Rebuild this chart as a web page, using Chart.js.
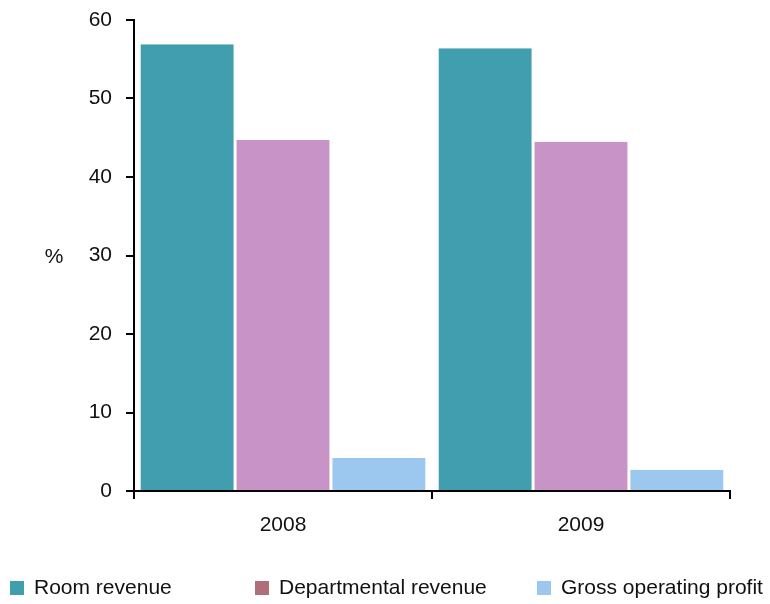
<!DOCTYPE html>
<html>
<head>
<meta charset="utf-8">
<script src="https://cdn.jsdelivr.net/npm/chart.js@4"></script>
<style>
  html, body { margin: 0; padding: 0; background: #fff; }
  #wrap { width: 770px; height: 604px; }
</style>
</head>
<body>
<div id="wrap"><canvas id="chart" width="770" height="604"></canvas></div>
<script>
// Share of revenue by year (%)
const years = ['2008', '2009'];
const roomRevenue = [56.9, 56.4];
const departmentalRevenue = [44.7, 44.5];
const grossOperatingProfit = [4.2, 2.7];
const yTicks = [0, 10, 20, 30, 40, 50, 60];

const seriesNames = ['Room revenue', 'Departmental revenue', 'Gross operating profit'];
const barColors = ['#419eae', '#c893c6', '#9cc7ee'];
const legendColors = ['#419eae', '#b06e7b', '#9cc7ee'];

const FONT = "'Liberation Sans', Arial, sans-serif";

// legend row and the "%" axis label, painted straight onto the canvas
const extrasPlugin = {
    id: 'extras',
    afterDraw(chart) {
        const ctx = chart.ctx;
        ctx.save();
        ctx.font = '21px ' + FONT;
        ctx.fillStyle = '#111';
        ctx.textBaseline = 'middle';
        ctx.textAlign = 'center';
        ctx.fillText('%', 54, 257);

        const legendX = [10, 255, 537];
        const legendY = 588;
        ctx.textAlign = 'left';
        seriesNames.forEach((name, i) => {
            ctx.fillStyle = legendColors[i];
            ctx.fillRect(legendX[i], legendY - 7, 14, 14);
            ctx.fillStyle = '#111';
            ctx.fillText(name, legendX[i] + 24, legendY);
        });
        ctx.restore();
    }
};

const ctx = document.getElementById('chart').getContext('2d');
new Chart(ctx, {
    type: 'bar',
    data: {
        labels: years,
        datasets: [roomRevenue, departmentalRevenue, grossOperatingProfit].map((vals, i) => ({
            label: seriesNames[i],
            data: vals,
            backgroundColor: barColors[i],
            borderColor: '#ffffff',
            // white seams between neighbouring bars only
            borderWidth: { left: 1.5, right: 1.5, top: 0, bottom: 0 },
            barPercentage: 1,
            categoryPercentage: 0.965
        }))
    },
    options: {
        responsive: false,
        animation: false,
        layout: { padding: { top: 20, right: 40, bottom: 63, left: 0 } },
        plugins: {
            legend: { display: false },
            tooltip: { enabled: false }
        },
        scales: {
            x: {
                grid: { display: true, drawOnChartArea: false, drawTicks: true, tickLength: 8, color: '#000', lineWidth: 2 },
                border: { display: true, color: '#000', width: 2 },
                ticks: { color: '#111', font: { family: FONT, size: 21 }, padding: 14 },
                afterFit(scale) {
                    scale.height = 50;
                    scale.paddingLeft = 0;
                    scale.paddingRight = 0;
                }
            },
            y: {
                min: 0,
                max: 60,
                afterBuildTicks(scale) { scale.ticks = yTicks.map(v => ({ value: v })); },
                grid: { display: true, drawOnChartArea: false, drawTicks: true, tickLength: 8, color: '#000', lineWidth: 2 },
                border: { display: true, color: '#000', width: 2 },
                ticks: { color: '#111', font: { family: FONT, size: 21 }, padding: 14 },
                afterFit(scale) {
                    scale.width = 134;
                    scale.paddingTop = 0;
                    scale.paddingBottom = 0;
                }
            }
        }
    },
    plugins: [extrasPlugin]
});
</script>
</body>
</html>
